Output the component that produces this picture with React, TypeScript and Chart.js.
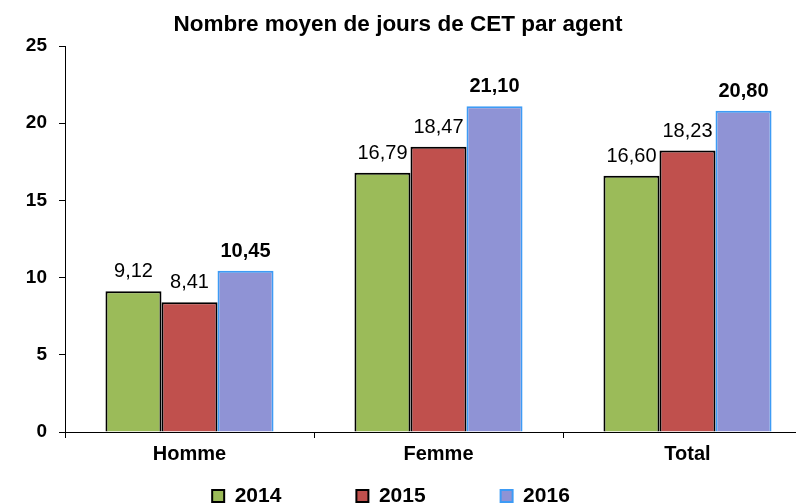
import React, { useEffect, useRef } from 'react';
import { Chart, registerables } from 'chart.js';

Chart.register(...registerables);

const categories = ['Homme', 'Femme', 'Total'];
const seriesLabels = ['2014', '2015', '2016'];
const values2014 = [9.12, 16.79, 16.6];
const values2015 = [8.41, 18.47, 18.23];
const values2016 = [10.45, 21.1, 20.8];
const yMin = 0;
const yMax = 25;
const yStep = 5;
const titleText = 'Nombre moyen de jours de CET par agent';

const FONT = '"Liberation Sans", Arial, Helvetica, sans-serif';
const LEGEND_PAD = 75;

const fmt = (v: number) => v.toFixed(2).replace('.', ',');

const valueLabels = {
  id: 'valueLabels',
  afterDatasetsDraw(chart: any) {
    const ctx = chart.ctx;
    ctx.save();
    ctx.fillStyle = '#000';
    ctx.textAlign = 'center';
    ctx.textBaseline = 'alphabetic';
    chart.data.datasets.forEach((ds: any, i: number) => {
      const meta = chart.getDatasetMeta(i);
      ctx.font = `${i === 2 ? 'bold ' : ''}20px ${FONT}`;
      meta.data.forEach((bar: any, j: number) => {
        ctx.fillText(fmt(ds.data[j]), bar.x, bar.y - 14);
      });
    });
    ctx.restore();
  },
};

const layoutTweak = {
  id: 'layoutTweak',
  afterLayout(chart: any) {
    const x = chart.scales.x;
    const ext = 16;
    x.right += ext;
    x.width += ext;
    chart.chartArea.right += ext;
    chart.chartArea.width += ext;
    x.configure();
    const lg = chart.legend;
    if (lg) {
      lg.top = 496 - 10.5 - LEGEND_PAD;
      lg.left -= 7;
      lg.right -= 7;
    }
  },
};

export default function App() {
  const ref = useRef<HTMLCanvasElement>(null);

  useEffect(() => {
    if (!ref.current) return;
    Chart.defaults.color = '#000';
    Chart.defaults.font.family = FONT;
    const chart = new Chart(ref.current, {
      type: 'bar',
      data: {
        labels: categories,
        datasets: [
          {
            label: seriesLabels[0],
            data: values2014,
            backgroundColor: '#9BBB59',
            borderColor: '#000000',
            borderWidth: 2,
          },
          {
            label: seriesLabels[1],
            data: values2015,
            backgroundColor: '#C0504D',
            borderColor: '#000000',
            borderWidth: 2,
          },
          {
            label: seriesLabels[2],
            data: values2016,
            backgroundColor: '#8F93D5',
            borderColor: '#3D9BF5',
            borderWidth: 2,
          },
        ],
      },
      options: {
        responsive: false,
        animation: false,
        layout: { padding: 0 },
        datasets: {
          bar: { categoryPercentage: 0.675, barPercentage: 1.0 },
        },
        plugins: {
          title: {
            display: true,
            text: titleText,
            color: '#000',
            font: { size: 22.5, weight: 'bold', family: FONT },
            padding: { top: 11, bottom: 8 },
          },
          legend: {
            display: true,
            position: 'bottom',
            maxHeight: 20,
            labels: {
              color: '#000',
              font: { size: 21, weight: 'bold', family: FONT },
              boxWidth: 12,
              boxHeight: 12,
              padding: LEGEND_PAD,
            },
          },
          tooltip: { enabled: false },
        },
        scales: {
          x: {
            grid: {
              display: true,
              drawOnChartArea: false,
              drawTicks: true,
              tickLength: 6,
              color: '#000',
              offset: true,
            },
            border: { display: true, color: '#000', width: 1 },
            ticks: {
              color: '#000',
              padding: 4,
              font: { size: 20, weight: 'bold', family: FONT },
            },
            afterFit: (scale: any) => {
              scale.height = 52;
            },
          },
          y: {
            min: yMin,
            max: yMax,
            grid: {
              display: true,
              drawOnChartArea: false,
              drawTicks: true,
              tickLength: 6,
              color: '#000',
            },
            border: { display: true, color: '#000', width: 1 },
            ticks: {
              stepSize: yStep,
              color: '#000',
              padding: 12,
              font: { size: 19, weight: 'bold', family: FONT },
            },
            afterFit: (scale: any) => {
              scale.width = 65;
            },
          },
        },
      },
      plugins: [valueLabels, layoutTweak],
    } as any);
    return () => chart.destroy();
  }, []);

  return (
    <div
      style={{
        position: 'fixed',
        left: 0,
        top: 0,
        width: 796,
        height: 504,
        overflow: 'hidden',
        background: '#fff',
      }}
    >
      <canvas ref={ref} width={796} height={504} style={{ display: 'block' }} />
    </div>
  );
}
